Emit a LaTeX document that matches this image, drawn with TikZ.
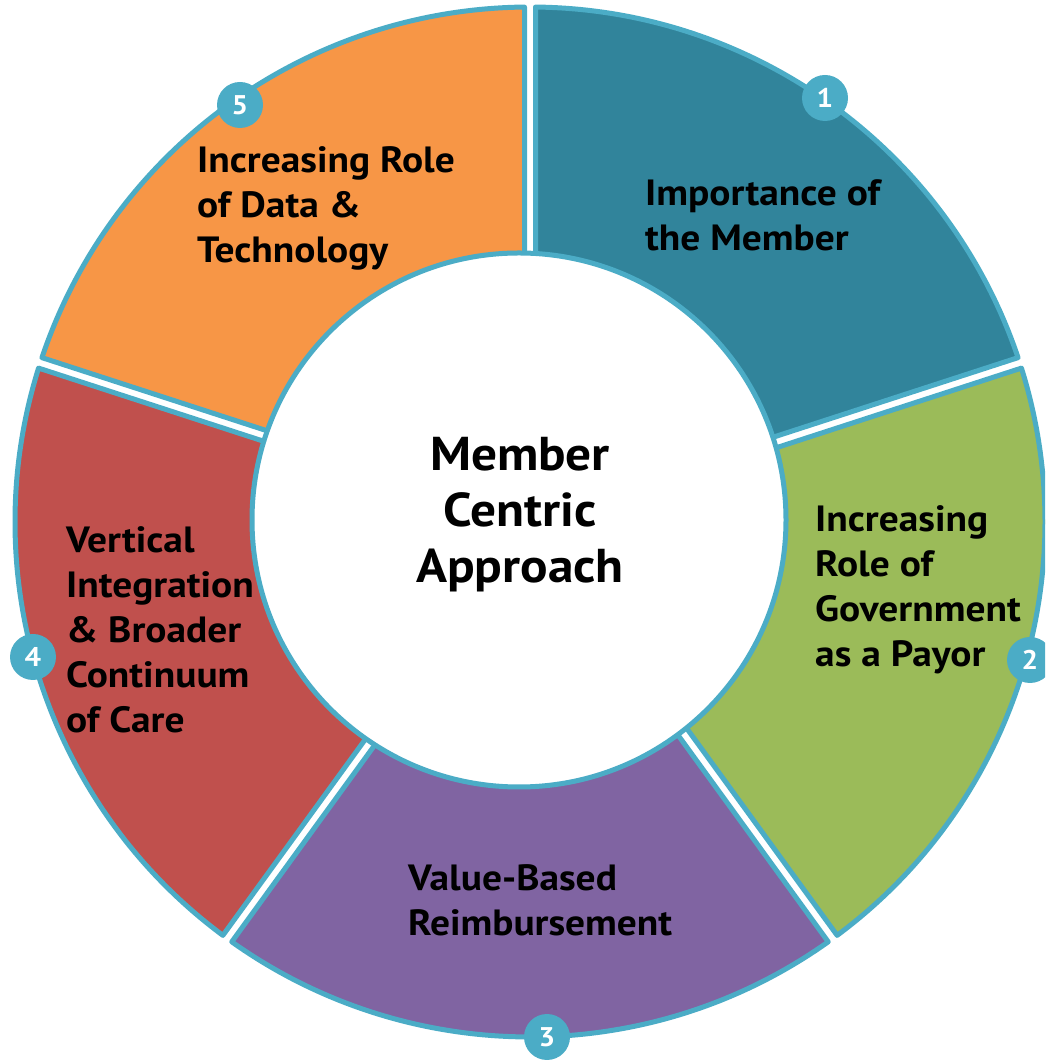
\documentclass[tikz,border=0pt]{standalone}
\usepackage{fontspec}
\setmainfont{PT Sans}[FakeStretch=1.08]
\usetikzlibrary{calc}
\definecolor{ringline}{HTML}{4BACC6}
\definecolor{segteal}{HTML}{31849B}
\definecolor{seggreen}{HTML}{9BBB59}
\definecolor{segpurple}{HTML}{8064A2}
\definecolor{segred}{HTML}{C0504D}
\definecolor{segorange}{HTML}{F79646}
\begin{document}
\begin{tikzpicture}[x=1pt,y=1pt,
  seg/.style={draw=ringline, line width=5pt, line join=round},
  badge/.style={circle, fill=ringline, minimum size=46pt, inner sep=0pt,
    text=white, font=\fontsize{27}{27}\selectfont\bfseries},
  seglabel/.style={anchor=west, align=left, inner sep=0pt,
    font=\fontsize{36.5}{45}\selectfont\bfseries},
  corelabel/.style={align=center, inner sep=0pt,
    font=\fontsize{47.5}{56}\selectfont\bfseries}]
\useasboundingbox (0,0) rectangle (1045,1060);
\clip (0,0) rectangle (1045,1060);
\coordinate (C) at (530,538);
% five ring segments separated by narrow white gaps
\foreach \a/\b/\c in {18/90/segteal, 90/162/segorange, 162/234/segred,
                      234/306/segpurple, 306/378/seggreen} {
  \draw[seg, fill=\c]
    ($(C)+(\a+1.313:240)$) -- ($(C)+(\a+0.612:515)$)
    arc[start angle=\a+0.612, end angle=\b-0.612, radius=515]
    -- ($(C)+(\b-1.313:240)$)
    arc[start angle=\b-1.313, end angle=\a+1.313, radius=240] -- cycle;
}
% central disc
\draw[ringline, line width=5pt, fill=white] (519,540) circle[radius=267];
\node[corelabel] (core) at (520,545) {Member\\Centric\\Approach};
% segment captions
\node[seglabel] (t1) at (645,845) {Importance of\\the Member};
\node[seglabel] (t2) at (815,470) {Increasing\\Role of\\Government\\as a Payor};
\node[seglabel] (t3) at (408,160) {Value-Based\\Reimbursement};
\node[seglabel] (t4) at (66,430) {Vertical\\Integration\\\& Broader\\Continuum\\of Care};
\node[seglabel] (t5) at (197,852) {Increasing Role\\of Data \&\\Technology};
% numbered badges on the outer rim
\node[badge] (b1) at (825,962) {1};
\node[badge] (b2) at (1030,400) {2};
\node[badge] (b3) at (547,23) {3};
\node[badge] (b4) at (33,403) {4};
\node[badge] (b5) at (240,955) {5};
\end{tikzpicture}
\end{document}
